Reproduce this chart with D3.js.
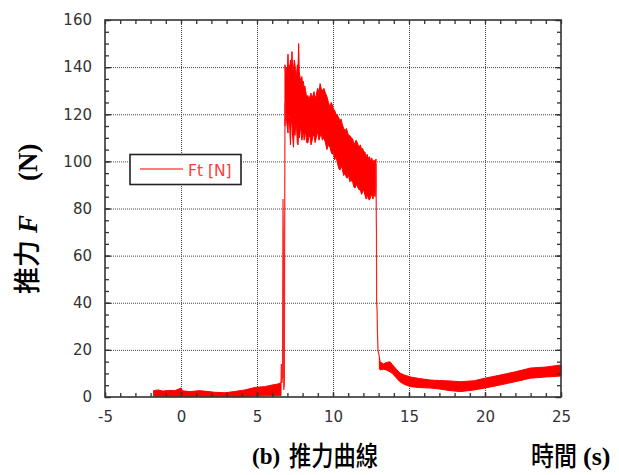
<!DOCTYPE html>
<html>
<head>
<meta charset="utf-8">
<script src="https://cdn.jsdelivr.net/npm/d3@7"></script>
<style>
  body { margin: 0; background: #fff; }
  .tick text { font-family: "DejaVu Sans", sans-serif; font-size: 15px; fill: #333; }
</style>
</head>
<body>
<div id="chart-area"></div>
<script>
// SVG size
let width = 619,
	height = 475;
let margin = { left: 105, right: 58, top: 20, bottom: 78 };

// x ticks / y ticks
let xTicks = [-5, 0, 5, 10, 15, 20, 25];
let yTicks = [0, 20, 40, 60, 80, 100, 120, 140, 160];

// pre-ignition noise band (time s, upper, lower N)
let preT  = [-1.8, -1.5, -1.2, -0.8, -0.4, 0, 0.1, 0.6, 1.2, 1.7, 2.2, 2.9, 3.5, 4.2, 4.9, 5.5, 6.0, 6.3, 6.5, 6.58];
let preHi = [2.7, 3.0, 2.5, 2.8, 2.7, 3.8, 2.6, 2.3, 2.7, 2.4, 2.0, 1.8, 2.3, 3.0, 4.1, 4.4, 5.1, 5.4, 5.8, 6.0];
let preLo = [0.3, 0.3, 0.3, 0.3, 0.3, 0.3, 0.3, 0.3, 0.3, 0.3, 0.3, 0.3, 0.3, 0.3, 0.4, 0.5, 0.6, 0.6, 0.6, 0.6];

// burn phase band
let burnT  = [6.84, 6.9, 6.95, 7.0, 7.04, 7.08, 7.12, 7.16, 7.2, 7.25, 7.3, 7.35, 7.4, 7.45, 7.5, 7.55, 7.6, 7.65, 7.7, 7.74,
	7.78, 7.8, 7.85, 7.9, 7.95, 8.0, 8.05, 8.1, 8.15, 8.2, 8.27, 8.35, 8.42, 8.5, 8.55, 8.6, 8.68, 8.75, 8.82, 8.9,
	8.95, 9.0, 9.08, 9.15, 9.22, 9.3, 9.4, 9.5, 9.6, 9.7, 9.8, 9.88, 9.95, 10.03, 10.1, 10.2, 10.3, 10.38, 10.46, 10.53,
	10.6, 10.7, 10.8, 10.88, 10.95, 11.03, 11.1, 11.2, 11.3, 11.38, 11.45, 11.52, 11.6, 11.7, 11.8, 11.88, 11.95, 12.02, 12.1, 12.18,
	12.25, 12.33, 12.4, 12.48, 12.55, 12.63, 12.7, 12.77, 12.83];
let burnHi = [141, 136, 140, 139, 145.5, 136, 141, 138, 143, 137, 146.6, 138, 139, 143, 141, 136, 137, 141, 140, 150,
	138, 137, 135, 134, 136, 133, 134, 131, 132, 130, 127, 128, 126, 128, 129, 127, 128, 129.6, 127, 128,
	130, 131, 129, 133, 131, 130, 131, 129, 127.5, 125, 123, 125, 124, 122, 121.8, 120, 119.5, 118.5, 117, 118,
	116, 114, 113, 114, 112.5, 111, 111, 110, 109.5, 107, 108, 109, 108, 106, 107, 105, 105.5, 104, 104, 102,
	103, 101, 102, 100, 101.5, 99, 100.6, 99, 101];
let burnLo = [115, 121, 117, 114, 112, 119, 120, 113, 107, 117, 116, 110, 106, 114, 111, 116, 115, 108, 107, 113,
	111, 110, 114, 113, 109, 111, 113, 109, 112, 112, 108, 107.8, 111, 110, 107, 108, 111, 111, 108, 110,
	112, 112, 109, 110.5, 112, 109, 110, 108, 105, 107, 106, 104, 103, 104, 100.6, 102, 99, 97, 96.3, 98,
	97, 94, 95, 93, 93, 94, 91.4, 92, 91, 89, 88.7, 90, 89.5, 88, 87.9, 86, 87, 88, 85.7, 84,
	86, 84, 83.6, 85, 86, 84, 87, 85, 89];

// tail-off band
let tailT  = [13.05, 13.1, 13.3, 13.5, 13.75, 13.9, 14.1, 14.4, 14.7, 15.1, 15.7, 16.4, 17.0, 17.7, 18.4, 19.3, 20, 21, 22, 23, 24, 25];
let tailHi = [17, 15, 14, 14.6, 15, 13.8, 12.3, 10.2, 9.3, 8.5, 7.8, 7.2, 7.0, 6.8, 6.5, 6.9, 8, 9.3, 10.7, 12.3, 12.7, 13.6];
let tailLo = [12, 11.5, 11.8, 11.5, 10.7, 10, 8.6, 6.5, 5.3, 4.4, 4.0, 3.8, 3.4, 2.7, 2.3, 3.0, 3.8, 5.1, 6.5, 8.0, 8.5, 8.9];

// thin trace at ignition and cut-off
let riseT = [6.5, 6.58, 6.6, 6.64, 6.68, 6.71, 6.73, 6.76, 6.8, 6.84];
let riseF = [5.8, 6, 14, 6, 8.6, 84, 70, 3, 5, 125];
let fallT = [12.83, 12.85, 12.86, 12.87, 12.9, 12.93, 12.96, 13.05];
let fallF = [99, 75, 70, 40, 37, 26, 20, 17];

let svg = d3.select("#chart-area")
	.append("svg")
	.attr("width", width)
	.attr("height", height);

let x = d3.scaleLinear()
	.domain([-5, 25])
	.range([margin.left, width - margin.right]);
let y = d3.scaleLinear()
	.domain([0, 160])
	.range([height - margin.bottom, margin.top]);

let x0 = margin.left, x1 = width - margin.right,
	y0 = height - margin.bottom, y1 = margin.top;

// grid
svg.append("g")
	.attr("class", "grid")
	.attr("transform", "translate(0," + y0 + ")")
	.call(d3.axisBottom(x).tickValues(xTicks.slice(1, -1)).tickSize(-(y0 - y1)).tickFormat(""))
	.call(g => g.select(".domain").remove());
svg.append("g")
	.attr("class", "grid")
	.attr("transform", "translate(" + x0 + ",0)")
	.call(d3.axisLeft(y).tickValues(yTicks.slice(1, -1)).tickSize(-(x1 - x0)).tickFormat(""))
	.call(g => g.select(".domain").remove());
svg.selectAll(".grid line")
	.attr("stroke", "#444")
	.attr("stroke-dasharray", "1,1");

// data
let area = d3.area()
	.x(d => x(d.t))
	.y0(d => y(d.lo))
	.y1(d => y(d.hi));
let bands = [[preT, preHi, preLo], [burnT, burnHi, burnLo], [tailT, tailHi, tailLo]];
bands.forEach(b => {
	let rows = b[0].map((t, i) => ({ t: t, hi: b[1][i], lo: b[2][i] }));
	svg.append("path")
		.datum(rows)
		.attr("d", area)
		.attr("fill", "#ff0000")
		.attr("stroke", "#ff0000")
		.attr("stroke-width", 1);
});

let line = d3.line().x(d => x(d[0])).y(d => y(d[1]));
[[riseT, riseF], [fallT, fallF]].forEach(s => {
	svg.append("path")
		.datum(s[0].map((t, i) => [t, s[1][i]]))
		.attr("d", line)
		.attr("fill", "none")
		.attr("stroke", "#ff2020")
		.attr("stroke-width", 1.2);
});

// axes with inward ticks
let minorX = d3.range(-5, 26, 1);
let minorY = d3.range(0, 161, 5);

function axisStyle(g) {
	g.select(".domain").remove();
	g.selectAll(".tick line").attr("stroke", "#333").attr("stroke-width", 1.3);
}

svg.append("g").attr("transform", "translate(0," + y0 + ")")
	.call(d3.axisBottom(x).tickValues(minorX).tickSize(-4).tickFormat("")).call(axisStyle);
svg.append("g").attr("transform", "translate(0," + y0 + ")")
	.call(d3.axisBottom(x).tickValues(xTicks).tickSize(-5).tickPadding(14).tickFormat(d => d)).call(axisStyle);
svg.append("g").attr("transform", "translate(0," + y1 + ")")
	.call(d3.axisTop(x).tickValues(minorX).tickSize(-4).tickFormat("")).call(axisStyle);
svg.append("g").attr("transform", "translate(" + x0 + ",0)")
	.call(d3.axisLeft(y).tickValues(minorY).tickSize(-4).tickFormat("")).call(axisStyle);
svg.append("g").attr("transform", "translate(" + x0 + ",0)")
	.call(d3.axisLeft(y).tickValues(yTicks).tickSize(-6).tickPadding(13).tickFormat(d => d)).call(axisStyle);
svg.append("g").attr("transform", "translate(" + x1 + ",0)")
	.call(d3.axisRight(y).tickValues(minorY).tickSize(-4).tickFormat("")).call(axisStyle);
svg.append("g").attr("transform", "translate(" + x1 + ",0)")
	.call(d3.axisRight(y).tickValues(yTicks).tickSize(-6).tickFormat("")).call(axisStyle);

// frame
svg.append("rect")
	.attr("x", x0).attr("y", y1)
	.attr("width", x1 - x0).attr("height", y0 - y1)
	.attr("fill", "none")
	.attr("stroke", "#333")
	.attr("stroke-width", 1.6);

// legend
svg.append("rect")
	.attr("x", 130).attr("y", 154.5)
	.attr("width", 111).attr("height", 30)
	.attr("fill", "#fff")
	.attr("stroke", "#222")
	.attr("stroke-width", 1.6);
svg.append("line")
	.attr("x1", 140).attr("x2", 183)
	.attr("y1", 169).attr("y2", 169)
	.attr("stroke", "#ff5050")
	.attr("stroke-width", 1.5);
svg.append("text")
	.text("Ft [N]")
	.attr("x", 188)
	.attr("y", 175.5)
	.style("font-family", "DejaVu Sans, sans-serif")
	.style("font-size", "15.5px")
	.style("fill", "#ff3c3c");

// y axis title
let yTitle = svg.append("text")
	.attr("transform", "translate(37,0) rotate(-90)")
	.style("font-weight", "bold")
	.style("fill", "#000");
yTitle.append("tspan")
	.text("推力")
	.attr("x", -294)
	.style("font-family", "Noto Sans CJK TC")
	.style("font-weight", "500")
	.style("font-size", "27px");
yTitle.append("tspan")
	.text("F")
	.attr("x", -233)
	.style("font-family", "Liberation Serif")
	.style("font-style", "italic")
	.style("font-size", "27px");
yTitle.append("tspan")
	.text("(N)")
	.attr("x", -181)
	.style("font-family", "Liberation Serif")
	.style("font-size", "27px");

// bottom captions
svg.append("text")
	.text("(b)")
	.attr("x", 252)
	.attr("y", 464)
	.style("font-family", "Liberation Serif")
	.style("font-weight", "bold")
	.style("font-size", "23px");
svg.append("text")
	.text("推力曲線")
	.attr("x", 289)
	.attr("y", 466)
	.attr("textLength", 89)
	.attr("lengthAdjust", "spacingAndGlyphs")
	.style("font-family", "Noto Sans CJK TC")
	.style("font-weight", "500")
	.style("font-size", "27px");
svg.append("text")
	.text("時間")
	.attr("x", 531)
	.attr("y", 466)
	.attr("textLength", 46)
	.attr("lengthAdjust", "spacingAndGlyphs")
	.style("font-family", "Noto Sans CJK TC")
	.style("font-weight", "500")
	.style("font-size", "27px");
svg.append("text")
	.text("(s)")
	.attr("x", 583)
	.attr("y", 465)
	.style("font-family", "Liberation Serif")
	.style("font-weight", "bold")
	.style("font-size", "26px");
</script>
</body>
</html>
